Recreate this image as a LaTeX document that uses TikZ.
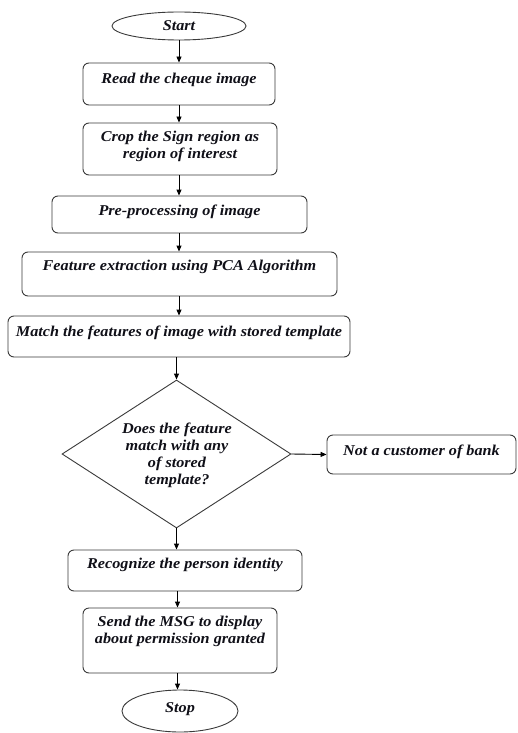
\documentclass[tikz,border=0pt]{standalone}
\usepackage{fontspec}
\setmainfont[FakeStretch=1.08]{Liberation Serif}
\usetikzlibrary{shapes.geometric,arrows.meta}
\definecolor{linegray}{HTML}{3A3A3A}
\definecolor{textc}{HTML}{101018}
\begin{document}
\begin{tikzpicture}[x=1pt,y=-1pt,
  box/.style={draw=linegray, line width=0.9pt, rounded corners=6pt, inner sep=0pt},
  term/.style={draw=linegray, line width=0.9pt, ellipse, inner sep=0pt},
  decision/.style={draw=linegray, line width=0.9pt, diamond, inner sep=0pt},
  txt/.style={font=\fontsize{15}{17}\selectfont\bfseries\itshape, align=center, inner sep=0pt, text=textc},
  flow/.style={-{Triangle[length=6pt,width=5pt]}, line width=0.9pt, draw=black}]
\useasboundingbox[fill=white] (0,0) rectangle (517,733);
\coordinate (axis) at (179,0);
\coordinate (lowaxis) at (177.5,0);

% terminals
\node[term, minimum width=134, minimum height=28] (start) at (179,26) {};
\node[txt] (tstart) at (179,26) {Start};
\node[term, minimum width=116, minimum height=42] (stop) at (180,711) {};
\node[txt] (tstop) at (180,709) {Stop};

% process boxes
\node[box, minimum width=192, minimum height=42] (read) at (179,84) {};
\node[txt] (tread) at (179,80) {Read the cheque image};

\node[box, minimum width=194, minimum height=52] (crop) at (180,149) {};
\node[txt] (tcrop) at (180,146.5) {Crop the Sign region as\\region of interest};

\node[box, minimum width=255, minimum height=37] (pre) at (179.5,214.5) {};
\node[txt] (tpre) at (179.5,212) {Pre-processing of image};

\node[box, minimum width=315, minimum height=44] (feat) at (179.5,274) {};
\node[txt] (tfeat) at (179.5,267) {Feature extraction using PCA Algorithm};

\node[box, minimum width=342, minimum height=41] (match) at (179,336.5) {};
\node[txt] (tmatch) at (179,333) {Match the features of image with stored template};

% decision
\node[decision, minimum width=229, minimum height=148] (dec) at (176.5,454) {};
\node[txt] (tdec) at (177,455) {Does the feature\\match with any\\of stored\\template?};

\node[box, minimum width=189, minimum height=39] (notc) at (421.5,454.5) {};
\node[txt] (tnotc) at (421.5,452) {Not a customer of bank};

\node[box, minimum width=234, minimum height=41] (recog) at (185,570.5) {};
\node[txt] (trecog) at (185,565) {Recognize the person identity};

\node[box, minimum width=194, minimum height=65] (send) at (180,640.5) {};
\node[txt] (tsend) at (180,631.5) {Send the MSG to display\\about permission granted};

% connectors
\draw[flow] (start.south -| axis) -- (read.north -| axis);
\draw[flow] (read.south -| axis) -- (crop.north -| axis);
\draw[flow] (crop.south -| axis) -- (pre.north -| axis);
\draw[flow] (pre.south -| axis) -- (feat.north -| axis);
\draw[flow] (feat.south -| axis) -- (match.north -| axis);
\draw[flow] (match.south -| dec.north) -- (dec.north);
\draw[flow] (dec.east) -- (notc.west);
\draw[flow] (dec.south) -- (recog.north -| dec.south);
\draw[flow] (recog.south -| lowaxis) -- (send.north -| lowaxis);
\draw[flow] (send.south -| lowaxis) -- (stop.north -| lowaxis);
\end{tikzpicture}
\end{document}
